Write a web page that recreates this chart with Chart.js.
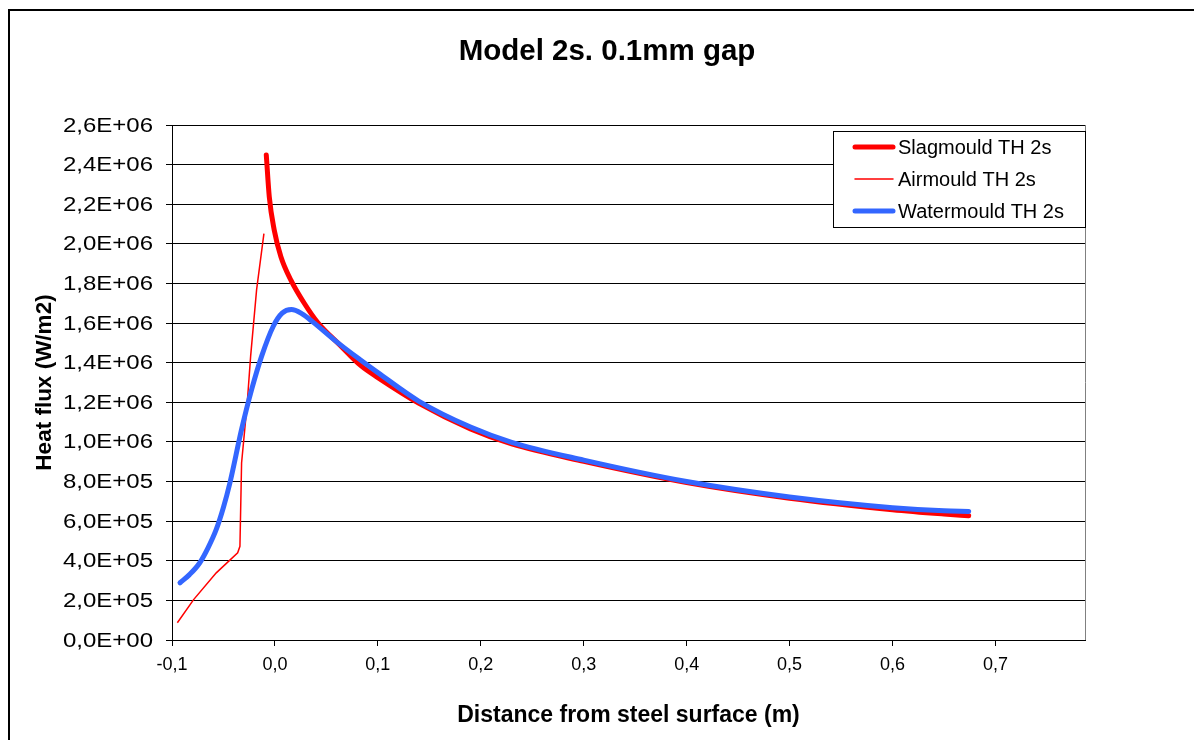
<!DOCTYPE html>
<html>
<head>
<meta charset="utf-8">
<script src="https://cdn.jsdelivr.net/npm/chart.js@4/dist/chart.umd.min.js"></script>
<style>
  html, body { margin: 0; padding: 0; background: #ffffff; }
  #wrap { position: relative; width: 1194px; height: 740px; }
</style>
</head>
<body>
<div id="wrap"><canvas id="c"></canvas></div>
<script>
// ---- data ----
const slagX  = [-0.0084, -0.0055, -0.0007, 0.0058, 0.0155, 0.0285, 0.042, 0.063, 0.0835, 0.1, 0.14, 0.19, 0.23, 0.3, 0.4, 0.5, 0.6, 0.65, 0.674];
const slagY  = [2.449e6, 2.238e6, 2.07e6, 1.935e6, 1.817e6, 1.70e6, 1.60e6, 1.49e6, 1.385e6, 1.325e6, 1.195e6, 1.066e6, 0.990e6, 0.902e6, 0.795e6, 0.716e6, 0.658e6, 0.636e6, 0.627e6];

const airX   = [-0.0948, -0.079, -0.057, -0.0362, -0.034, -0.0324, -0.0269, -0.0236, -0.0178, -0.0107];
const airY   = [0.087e6, 0.204e6, 0.339e6, 0.440e6, 0.473e6, 0.894e6, 1.197e6, 1.433e6, 1.769e6, 2.052e6];

const waterX = [-0.0922, -0.083, -0.073, -0.065, -0.057, -0.05, -0.0437, -0.0324, -0.0226, -0.0129, -0.0016, 0.007, 0.016, 0.026, 0.037, 0.06, 0.0825, 0.1, 0.14, 0.19, 0.23, 0.3, 0.4, 0.5, 0.6, 0.65, 0.674];
const waterY = [0.289e6, 0.33e6, 0.39e6, 0.465e6, 0.558e6, 0.67e6, 0.794e6, 1.063e6, 1.265e6, 1.433e6, 1.584e6, 1.65e6, 1.668e6, 1.648e6, 1.605e6, 1.505e6, 1.416e6, 1.35e6, 1.205e6, 1.075e6, 0.998e6, 0.908e6, 0.800e6, 0.722e6, 0.668e6, 0.652e6, 0.649e6];

const seriesNames = ["Slagmould TH 2s", "Airmould TH 2s", "Watermould TH 2s"];
const chartTitle = "Model 2s. 0.1mm gap";
const xTitle = "Distance from steel surface (m)";
const yTitle = "Heat flux (W/m2)";
const xTickValues = [-0.1, 0.0, 0.1, 0.2, 0.3, 0.4, 0.5, 0.6, 0.7];
const yMin = 0, yMax = 2.6e6, yStep = 2e5;
const xMin = -0.1, xMax = 0.787;

// ---- helpers ----
function pts(xs, ys) { return xs.map((x, i) => ({ x: x, y: ys[i] })); }
function fmtExp(v) {
  if (Math.abs(v) < 1e-6) return "0,0E+00";
  const e = Math.floor(Math.log10(Math.abs(v)) + 1e-9);
  const m = v / Math.pow(10, e);
  const es = (e < 0 ? "-" : "+") + String(Math.abs(e)).padStart(2, "0");
  return m.toFixed(1).replace(".", ",") + "E" + es;
}
function fmtX(v) { return (Math.abs(v) < 1e-9 ? 0 : v).toFixed(1).replace(".", ","); }

const FONT = "'Liberation Sans', Arial, sans-serif";
const RED = "#FF0000", BLUE = "#3366FF";
const styles = [
  { color: RED, width: 5 },
  { color: RED, width: 1.5 },
  { color: BLUE, width: 5 }
];

const frame = {
  id: "frame",
  beforeDraw(chart) {
    const ctx = chart.ctx;
    ctx.save();
    ctx.fillStyle = "#fff";
    ctx.fillRect(0, 0, chart.width, chart.height);
    ctx.strokeStyle = "#000";
    ctx.lineWidth = 2;
    ctx.strokeRect(9, 10, 1300, 900);
    ctx.restore();
  },
  afterDraw(chart) {
    // y tick labels, drawn from the y scale's own ticks (slightly widened glyphs as in the reference)
    const ctx = chart.ctx, ys = chart.scales.y;
    ctx.save();
    ctx.font = "20px " + FONT;
    ctx.fillStyle = "#000";
    ctx.textBaseline = "middle";
    ctx.textAlign = "right";
    const sx = 90 / ctx.measureText("2,6E+06").width;
    const rightX = ys.right - 6 - 13;
    ys.ticks.forEach(t => {
      const py = ys.getPixelForValue(t.value);
      ctx.save();
      ctx.translate(rightX, py + 1);
      ctx.scale(sx, 1);
      ctx.fillText(fmtExp(t.value), 0, 0);
      ctx.restore();
    });
    ctx.restore();
  },
  afterDatasetsDraw(chart) {
    const ctx = chart.ctx, a = chart.chartArea;
    ctx.save();
    ctx.strokeStyle = "#808080";
    ctx.lineWidth = 1;
    ctx.beginPath();
    ctx.moveTo(Math.round(a.right) + 0.5, a.top);
    ctx.lineTo(Math.round(a.right) + 0.5, a.bottom);
    ctx.stroke();
    // legend box
    const bx = 833, by = 131, bw = 252, bh = 96;
    ctx.fillStyle = "#fff";
    ctx.fillRect(bx, by, bw, bh);
    ctx.strokeStyle = "#000";
    ctx.strokeRect(bx + 0.5, by + 0.5, bw, bh);
    ctx.font = "20px " + FONT;
    ctx.textBaseline = "middle";
    ctx.fillStyle = "#000";
    const rows = [147, 179, 211];
    chart.data.datasets.forEach((ds, i) => {
      const y = rows[i];
      ctx.strokeStyle = ds.borderColor;
      ctx.lineWidth = ds.borderWidth;
      ctx.lineCap = "round";
      ctx.beginPath();
      ctx.moveTo(855, y);
      ctx.lineTo(893, y);
      ctx.stroke();
      ctx.fillText(ds.label, 898, y + 1);
    });
    ctx.restore();
  }
};

new Chart(document.getElementById("c"), {
  type: "line",
  data: {
    datasets: [
      { label: seriesNames[0], data: pts(slagX, slagY), borderColor: styles[0].color, borderWidth: styles[0].width, order: 2, cubicInterpolationMode: "monotone", borderCapStyle: "round", borderJoinStyle: "round" },
      { label: seriesNames[1], data: pts(airX, airY), borderColor: styles[1].color, borderWidth: styles[1].width, order: 1, tension: 0 },
      { label: seriesNames[2], data: pts(waterX, waterY), borderColor: styles[2].color, borderWidth: styles[2].width, order: 0, cubicInterpolationMode: "monotone", borderCapStyle: "round", borderJoinStyle: "round" }
    ]
  },
  options: {
    responsive: true,
    maintainAspectRatio: false,
    animation: false,
    events: [],
    parsing: false,
    elements: { point: { radius: 0 }, line: { fill: false } },
    layout: { padding: { left: 20, right: 0, top: 0, bottom: 0 } },
    plugins: {
      legend: { display: false },
      tooltip: { enabled: false },
      title: {
        display: true,
        text: chartTitle,
        color: "#000",
        font: { family: FONT, size: 29.5, weight: "bold", lineHeight: 1.2 },
        padding: { top: 34, bottom: 125 - 34 - 35.4 }
      }
    },
    scales: {
      x: {
        type: "linear",
        min: xMin, max: xMax,
        afterBuildTicks(s) { s.ticks = xTickValues.map(v => ({ value: v })); },
        afterFit(s) { s.height = 100; },
        ticks: { callback: v => fmtX(v), color: "#000", font: { family: FONT, size: 18 }, padding: 8, maxRotation: 0, autoSkip: false },
        grid: { display: true, drawOnChartArea: false, drawTicks: true, tickLength: 6, color: "#000" },
        border: { display: true, color: "#000", width: 1 },
        title: { display: true, text: xTitle, color: "#000", font: { family: FONT, size: 23, weight: "bold", lineHeight: 1.2 }, padding: { top: 0, bottom: 11 } }
      },
      y: {
        type: "linear",
        position: "left",
        min: yMin, max: yMax,
        afterFit(s) { s.width = 152; },
        ticks: { stepSize: yStep, display: false, callback: v => fmtExp(v) },
        grid: { display: true, drawTicks: true, tickLength: 6, color: "#000", lineWidth: 1 },
        border: { display: true, color: "#000", width: 1 },
        title: { display: true, text: yTitle, color: "#000", font: { family: FONT, size: 22.5, weight: "bold", lineHeight: 1.2 }, padding: { top: 11, bottom: 0 } }
      },
      yR: {
        type: "linear",
        position: "right",
        min: 0, max: 1,
        display: true,
        afterFit(s) { s.width = 109; },
        ticks: { display: false },
        grid: { display: false, drawTicks: false },
        border: { display: false }
      }
    }
  },
  plugins: [frame]
});
</script>
</body>
</html>
